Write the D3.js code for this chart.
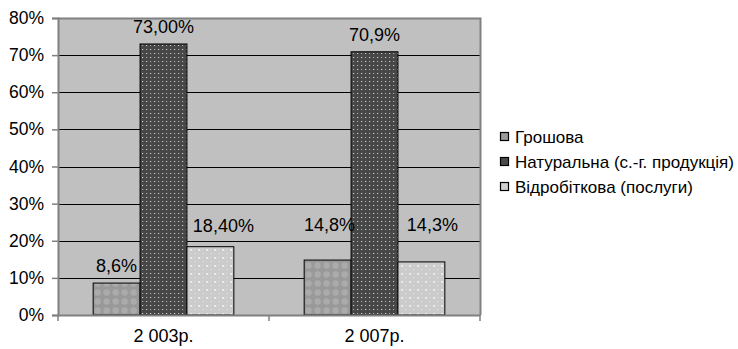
<!DOCTYPE html>
<html>
<head>
<meta charset="utf-8">
<script src="https://cdn.jsdelivr.net/npm/d3@7/dist/d3.min.js"></script>
<style>
  html, body { margin: 0; padding: 0; background: #fff; }
  svg { display: block; font-family: "Liberation Sans", Arial, sans-serif; }
</style>
</head>
<body>
<svg id="chart" width="738" height="349"></svg>
<script>
// Years on the category axis
const categories = ["2 003р.", "2 007р."];
// Series names
const seriesNames = ["Грошова", "Натуральна (с.-г. продукція)", "Відробіткова (послуги)"];
// Shares, % (per year, in series order)
const values2003 = [8.6, 73.0, 18.4];
const values2007 = [14.8, 70.9, 14.3];
// Data labels as printed
const labels2003 = ["8,6%", "73,00%", "18,40%"];
const labels2007 = ["14,8%", "70,9%", "14,3%"];
// Value-axis ticks
const yTicks = [0, 10, 20, 30, 40, 50, 60, 70, 80];

const rows = [values2003, values2007];
const labelRows = [labels2003, labels2007];

// Layout
const plot = { left: 58, right: 480, top: 18, bottom: 315 };
// hand-placed label nudges (dx, extra lift) per year / series
const labelNudge = [
  [[0, 0], [0, 0], [13, 4]],
  [[2, 18], [0, 0], [11, 20]]
];

const svg = d3.select("#chart");
const defs = svg.append("defs");

// Fill patterns for the three series
(function () {
  const p0 = defs.append("pattern").attr("id", "pat0").attr("patternUnits", "userSpaceOnUse")
    .attr("width", 9).attr("height", 9);
  p0.append("rect").attr("width", 9).attr("height", 9).attr("fill", "#999999");
  p0.append("circle").attr("cx", 4.5).attr("cy", 4.5).attr("r", 3.2).attr("fill", "#ababab");

  const p1 = defs.append("pattern").attr("id", "pat1").attr("patternUnits", "userSpaceOnUse")
    .attr("width", 8).attr("height", 8);
  p1.append("rect").attr("width", 8).attr("height", 8).attr("fill", "#474747");
  p1.append("rect").attr("x", 1).attr("y", 1).attr("width", 1).attr("height", 1).attr("fill", "#f0f0f0");
  p1.append("rect").attr("x", 5).attr("y", 1).attr("width", 1).attr("height", 1).attr("fill", "#bdbdbd");
  p1.append("rect").attr("x", 1).attr("y", 5).attr("width", 1).attr("height", 1).attr("fill", "#bdbdbd");
  p1.append("rect").attr("x", 5).attr("y", 5).attr("width", 1).attr("height", 1).attr("fill", "#f0f0f0");

  const p2 = defs.append("pattern").attr("id", "pat2").attr("patternUnits", "userSpaceOnUse")
    .attr("width", 8).attr("height", 8);
  p2.append("rect").attr("width", 8).attr("height", 8).attr("fill", "#cbcbcb");
  p2.append("rect").attr("x", 1).attr("y", 1).attr("width", 2).attr("height", 2).attr("fill", "#ececec");
  p2.append("rect").attr("x", 5).attr("y", 5).attr("width", 1).attr("height", 1).attr("fill", "#f4f4f4");
  p2.append("rect").attr("x", 5).attr("y", 1).attr("width", 1).attr("height", 1).attr("fill", "#dddddd");
  p2.append("rect").attr("x", 1).attr("y", 5).attr("width", 1).attr("height", 1).attr("fill", "#dddddd");
})();
const fills = ["url(#pat0)", "url(#pat1)", "url(#pat2)"];
const legendFills = ["#9a9a9a", "#4a4a4a", "#d0d0d0"];

const x = d3.scaleBand().domain(categories).range([plot.left, plot.right]).paddingInner(0).paddingOuter(0);
const bandW = x.bandwidth();
// Excel-like gap width of 150%
const barW = bandW / (seriesNames.length + 1.5);
const xs = d3.scaleBand().domain(d3.range(seriesNames.length))
  .range([0, barW * seriesNames.length]);
const groupOffset = (bandW - barW * seriesNames.length) / 2;

const y = d3.scaleLinear().domain([0, 80]).range([plot.bottom, plot.top]);

// Plot area background
svg.append("rect")
  .attr("x", plot.left).attr("y", plot.top)
  .attr("width", plot.right - plot.left).attr("height", plot.bottom - plot.top)
  .attr("fill", "#c0c0c0");

// Gridlines
svg.append("g").selectAll("line").data(yTicks.filter(t => t > 0 && t < 80)).join("line")
  .attr("x1", plot.left).attr("x2", plot.right)
  .attr("y1", d => Math.round(y(d)) + 0.5).attr("y2", d => Math.round(y(d)) + 0.5)
  .attr("stroke", "#000").attr("stroke-width", 1);

// Plot border (top & right)
svg.append("path")
  .attr("d", `M${plot.left},${plot.top + 0.5}H${plot.right + 0.5}V${plot.bottom}`)
  .attr("fill", "none").attr("stroke", "#808080").attr("stroke-width", 2);

// Bars
const groups = svg.append("g").selectAll("g").data(categories).join("g")
  .attr("transform", d => `translate(${x(d) + groupOffset},0)`);
groups.each(function (cat, ci) {
  d3.select(this).selectAll("rect").data(rows[ci]).join("rect")
    .attr("x", (d, i) => xs(i))
    .attr("y", d => y(d))
    .attr("width", barW)
    .attr("height", d => y(0) - y(d))
    .attr("fill", (d, i) => fills[i])
    .attr("stroke", "#000").attr("stroke-width", 1);
  d3.select(this).selectAll("text").data(rows[ci]).join("text")
    .attr("x", (d, i) => xs(i) + barW / 2 + labelNudge[ci][i][0])
    .attr("y", d => y(d) - 11)
    .attr("dy", (d, i) => -labelNudge[ci][i][1])
    .attr("text-anchor", "middle")
    .attr("font-size", 18).attr("fill", "#000")
    .text((d, i) => labelRows[ci][i]);
});

// Y axis
const yAxis = d3.axisLeft(y).tickValues(yTicks).tickSize(6).tickPadding(8).tickFormat(d => d + "%");
const gy = svg.append("g").attr("transform", `translate(${plot.left},0)`).call(yAxis);
gy.select(".domain").attr("stroke", "#808080").attr("stroke-width", 2);
gy.selectAll(".tick line").attr("stroke", "#808080").attr("stroke-width", 1.5);
gy.selectAll(".tick text").attr("font-size", 17.5).attr("fill", "#000")
  .attr("font-family", "'Liberation Sans', Arial, sans-serif");

// X axis
const xAxis = d3.axisBottom(x).tickSize(0).tickSizeOuter(0).tickPadding(14);
const gx = svg.append("g").attr("transform", `translate(0,${plot.bottom})`).call(xAxis);
gx.select(".domain").attr("stroke", "#808080").attr("stroke-width", 2);
gx.selectAll(".tick text").attr("font-size", 18).attr("fill", "#000")
  .attr("font-family", "'Liberation Sans', Arial, sans-serif");
// category separators
svg.append("g").selectAll("line")
  .data([plot.left, ...categories.map(c => x(c) + bandW)]).join("line")
  .attr("x1", d => d).attr("x2", d => d)
  .attr("y1", plot.bottom).attr("y2", plot.bottom + 6)
  .attr("stroke", "#808080").attr("stroke-width", 1.5);

// Legend
const legend = svg.append("g").attr("transform", "translate(500,137)");
const li = legend.selectAll("g").data(seriesNames).join("g")
  .attr("transform", (d, i) => `translate(0,${i * 25})`);
li.append("rect").attr("x", 0.5).attr("y", -4.5).attr("width", 8).attr("height", 8)
  .attr("fill", (d, i) => legendFills[i]).attr("stroke", "#000").attr("stroke-width", 1.2);
li.append("text").attr("x", 15).attr("y", 0).attr("dy", "0.35em")
  .attr("font-size", 17).attr("fill", "#000").text(d => d);
</script>
</body>
</html>
